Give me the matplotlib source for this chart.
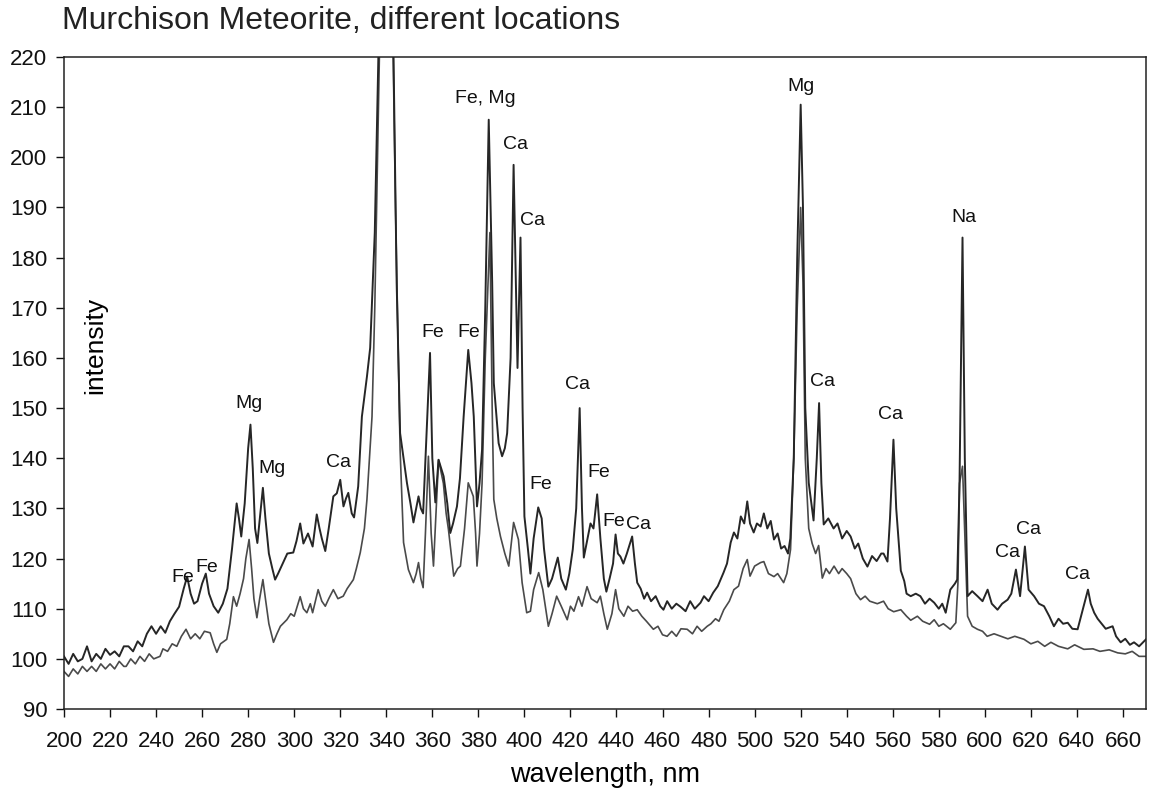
import matplotlib
matplotlib.use("Agg")
import matplotlib.pyplot as plt
import numpy as np

plt.rcParams['font.family'] = ['Liberation Sans', 'DejaVu Sans']

# upper trace (first location)
wl_a = [200, 202, 204, 206, 208, 210, 212, 214, 216, 218, 220, 222, 224, 226, 228, 230, 232, 234, 236, 238,
        240, 242, 244, 246, 248, 250, 252, 253.5, 255, 256.5, 258, 260, 261.6, 263, 265, 267, 269, 271, 273, 275,
        276, 277, 278.5, 280, 281, 282, 283, 284, 285.3, 286.4, 287.5, 289, 290.5, 291.7, 293, 295, 297, 299.6,
        301, 302.6, 304, 306, 308, 309.8, 311, 312, 313.5, 315, 317, 318.5, 320, 321.4, 322.5, 323.5, 325, 326,
        327.8, 329.4, 331.6, 333, 335, 337, 339, 341, 343, 344.5, 346, 349, 350.5, 351.8, 353, 354, 355, 356,
        357.5, 359, 360, 361.3, 362.7, 364.9, 366.5, 367.8, 369, 370.7, 372, 373.6, 375.6, 377, 378, 379.4,
        380.5, 381.6, 383, 384.5, 386, 386.7, 388.8, 390.3, 391.5, 392.5, 394, 395.3, 396.3, 397, 398.3, 399.2,
        400, 401.5, 402.6, 404, 406, 407.5, 408.5, 410.4, 412, 414.5, 416, 418, 419.5, 421, 422.5, 424, 425,
        425.8, 427, 428.7, 430, 431.6, 433, 434.5, 435.6, 437, 438.5, 439.6, 440.6, 441.7, 443, 444.5, 446.8,
        448, 449, 450.5, 452, 453.3, 455, 457, 459, 460.4, 462, 464, 466, 467.8, 470, 472, 474, 476.5, 478,
        480, 482, 484, 486.5, 488, 489.6, 491, 492.5, 494, 495.5, 496.8, 498, 499.6, 501, 502.6, 504, 505.5,
        507, 508.4, 510, 511.5, 513, 514.5, 515.5, 517, 518.5, 520, 521, 522, 523.5, 525.6, 527, 528, 529, 530,
        532, 534.3, 536, 538, 540, 541.7, 543.5, 545, 547, 549, 551, 553, 555, 556, 557.7, 558.8, 560.3, 561.5,
        563.5, 565, 566, 567.8, 570, 572, 574, 576, 578, 580, 581.5, 583, 585, 587, 588, 589, 590.3, 591.3,
        592.5, 594.5, 596.8, 599, 601.2, 603, 605.5, 607.5, 609.9, 611.5, 613.5, 615.3, 617.4, 619, 621.4,
        623.5, 625.7, 628, 630, 632, 634, 636, 638, 640.3, 642.5, 644.8, 646, 647.5, 649, 650.4, 652.5, 655.5,
        657, 659, 661, 663, 664.8, 667, 670]
int_a = [100.5, 99, 101, 99.5, 100, 102.5, 99.5, 101, 100, 102, 100.8, 101.5, 100.5, 102.5, 102.5, 101.5, 103.5,
         102.5, 105, 106.5, 105, 106.5, 105.2, 107.5, 109, 110.4, 114, 116.4, 113, 111, 111.5, 115, 117, 113,
         110.5, 109.2, 111, 114, 122, 131, 128, 124.4, 131, 142, 146.7, 138, 126, 123.1, 129, 134.1, 128, 121,
         118, 115.8, 117, 119, 121, 121.2, 123.5, 127, 123, 125, 122.4, 128.8, 126, 124, 121.5, 126, 132.4, 133,
         135.7, 130.4, 132, 133.1, 129, 128.2, 134.4, 148.3, 156.3, 162, 185, 230, 270, 270, 225, 175, 145, 135,
         131, 127.2, 130, 132.4, 130, 129, 145, 161, 140, 131.2, 139.7, 136.4, 131, 125.1, 127, 130.4, 136,
         148.3, 161.6, 155, 148.3, 130.4, 135, 141.7, 170, 207.5, 175, 155, 143, 140.4, 142, 145, 160, 198.5,
         175, 158, 184, 150, 128.4, 122, 117, 124, 130.2, 128, 122, 114.4, 116, 120.2, 116, 113.8, 117, 121.8,
         130, 150, 130, 120.2, 123, 127, 126, 132.8, 124, 116, 113.4, 116, 119, 124.8, 121, 120.4, 119, 121,
         124.4, 119, 115.2, 114, 112, 113.2, 111.5, 112.5, 110.5, 109.8, 111.5, 110, 111, 110.4, 109.5, 111.5,
         110, 111.2, 112.5, 111.5, 113.2, 114.5, 117.2, 119, 123.2, 125.2, 124, 128.4, 127, 131.4, 127, 125.2,
         127, 126.4, 129, 126, 127.5, 123.8, 125, 122, 122.5, 121, 124, 140, 180, 210.5, 190, 150, 135.1, 127.6,
         140, 151, 135, 126.8, 128, 126, 127, 124, 125.5, 124.4, 122, 123, 120, 118.4, 120.5, 119.5, 121, 121,
         119.4, 128, 143.7, 130, 117.6, 115.5, 113, 112.5, 113, 112.5, 111, 112, 111.2, 110, 111, 109.2, 113.8,
         115, 115.8, 135, 184, 140, 112.5, 113.5, 112.5, 111.5, 113.8, 111, 109.8, 111, 111.8, 113, 117.8,
         112.5, 122.4, 113.8, 112.5, 111, 110.5, 108.5, 106.5, 108, 107, 107.2, 106, 105.9, 109.8, 113.8, 111,
         109.2, 108, 107.2, 106, 106.5, 104.5, 103.3, 104, 102.8, 103.3, 102.5, 103.9]

# lower trace (second location)
wl_b = [200, 202, 204, 206, 208, 210, 212, 214, 216, 218, 220, 222, 224, 226, 227, 229, 231, 233, 235, 237, 239,
        241.7, 243, 245, 247, 249, 251, 253, 255, 257, 259, 261, 263.5, 265, 266.4, 268, 270.7, 272, 273.6, 275,
        276.5, 278, 279, 280.4, 281.5, 282.5, 283.8, 285, 286.4, 287.5, 289, 291, 292.5, 294, 296.8, 298.5,
        300, 302.6, 304, 305.5, 307, 308, 310.4, 312, 313.5, 315, 317, 319, 321.3, 323, 325.7, 327, 328.7,
        330.5, 331.6, 333.8, 335, 337, 339, 341, 343, 344, 346, 347.5, 349.6, 351.8, 353, 354, 355, 356, 357,
        358.3, 359.5, 360.5, 361.5, 362.7, 364.8, 366, 367, 369.3, 371, 372.2, 374, 375.6, 377.8, 378.8, 379.4,
        380.5, 381.6, 383, 385, 386, 386.7, 388, 389.6, 391.5, 393.2, 395.3, 397.4, 399, 401, 402.6, 404, 406.2,
        408, 410.4, 412, 414, 416, 418.6, 420, 421.5, 423.5, 425, 427.2, 429, 431.6, 433, 434.5, 436, 438,
        439.6, 441, 443.2, 445, 447, 449, 451, 453, 456, 458, 460, 462, 464, 466, 468, 470.7, 473, 475, 477,
        479.4, 481, 483, 484.5, 486.6, 489, 491, 493, 495, 496.8, 498, 500, 502.6, 504, 506, 508.4, 510, 512.6,
        514, 515.6, 517, 518.5, 520, 521, 522, 523.5, 525, 526.5, 527.8, 529.4, 531, 532.5, 534.5, 536.5, 538,
        540, 541.7, 544, 546, 548, 550, 553.3, 556, 558, 560.4, 563.5, 566, 567.8, 570.7, 573, 576, 578, 580,
        582, 585, 587.4, 588.3, 589, 590.3, 591.3, 592.5, 594.5, 596.8, 599, 601, 604, 607, 610, 613, 617, 620,
        623, 626, 628.7, 632, 636, 639, 643, 647, 650, 654, 657.7, 661, 664, 667, 670]
int_b = [97.5, 96.5, 98, 97, 98.5, 97.5, 98.5, 97.5, 99, 98, 99, 98, 99.5, 98.5, 98.5, 100, 99, 100.5, 99.5, 101,
         100, 100.5, 102, 101.5, 103, 102.5, 104.5, 105.9, 104, 105, 104, 105.5, 105.2, 103, 101.3, 103, 103.9,
         107, 112.4, 110.5, 113, 116, 120, 123.8, 118, 112, 108.2, 112, 115.8, 112, 107, 103.3, 105, 106.5,
         107.8, 109, 108.5, 112.4, 110, 109.2, 111, 109.2, 113.8, 111.5, 110.5, 112, 113.8, 112, 112.5, 114,
         115.8, 118, 121.2, 126, 131.8, 148.3, 170, 220, 260, 260, 220, 190, 141.7, 123.2, 117.8, 115.2, 117,
         119.2, 116, 114.2, 125, 140.4, 125, 118.5, 128, 139.7, 135, 129, 125.8, 116.5, 118, 118.5, 126, 135.1,
         132.4, 125, 118.5, 125, 135, 160, 185, 150, 131.8, 128, 124.4, 121, 118.5, 127.2, 123.8, 115.2, 109.2,
         109.5, 113.8, 117.2, 113.8, 106.5, 109, 112.5, 110.5, 107.8, 110.5, 109.5, 112.4, 110.5, 114.4, 112,
         111.2, 112.5, 109, 105.9, 109, 113.8, 110, 108.5, 110.5, 109.5, 109.8, 108.5, 107.5, 105.9, 106.5,
         104.8, 104.5, 105.5, 104.5, 106, 105.9, 105, 106.5, 105.5, 106.5, 107, 108, 107.5, 109.8, 111.5, 113.8,
         114.5, 118, 119.8, 116.5, 118.5, 119.2, 119.4, 117, 116.4, 117, 115.2, 117, 121.8, 140, 170, 190, 175,
         140, 126, 123, 121, 122.6, 116.1, 118, 117, 118.5, 117, 118, 117, 116, 113, 111.8, 112.5, 111.5, 111,
         111.5, 110, 109.4, 109.8, 108.5, 107.7, 108.5, 107.5, 106.9, 107.8, 106.5, 107, 105.9, 107.2, 115, 135,
         138.4, 125, 108.5, 106.5, 105.9, 105.5, 104.5, 105, 104.5, 104, 104.5, 103.9, 103, 103.5, 102.5, 103.3,
         102.5, 102, 102.8, 101.9, 102, 101.5, 101.8, 101.2, 101, 101.5, 100.5, 100.5]

# element labels: text, wavelength, intensity
lbl_text = ['Fe', 'Fe', 'Mg', 'Mg', 'Ca', 'Fe', 'Fe', 'Fe, Mg', 'Ca', 'Ca', 'Fe', 'Ca', 'Fe', 'Fe', 'Ca',
            'Mg', 'Ca', 'Ca', 'Na', 'Ca', 'Ca', 'Ca']
lbl_x = [251.7, 262.2, 280.4, 290.4, 319.1, 360.4, 375.7, 383.0, 396.0, 403.3, 407.0, 422.9, 432.3, 438.8,
         449.7, 520.0, 529.6, 559.0, 590.9, 610.0, 619.0, 640.4]
lbl_y = [116.2, 118.2, 150.9, 138.0, 139.1, 165.0, 165.0, 211.8, 202.5, 187.5, 134.7, 154.7, 137.1, 127.4,
         126.8, 214.2, 155.3, 148.7, 188.0, 121.2, 125.8, 116.8]

fig = plt.figure(figsize=(11.55, 7.93), dpi=100)
ax = fig.add_axes([0.0554, 0.1059, 0.9368, 0.8222])

ax.plot(wl_b, int_b, color='#4a4a4a', linewidth=1.2)
ax.plot(wl_a, int_a, color='#262626', linewidth=1.4)

for t, x, y in zip(lbl_text, lbl_x, lbl_y):
    ax.text(x, y, t, fontsize=14, ha='center', va='center', color='#111111')

ax.set_xlim(200, 670)
ax.set_ylim(90, 220)
ax.set_xticks(np.arange(200, 661, 20))
ax.set_yticks(np.arange(90, 221, 10))
ax.tick_params(axis='both', direction='out', length=6, width=1, labelsize=16, colors='#111111')
ax.tick_params(axis='x', pad=10)
ax.tick_params(axis='y', pad=6)
for s in ax.spines.values():
    s.set_linewidth(1.1)
    s.set_color('#222222')

ax.set_xlabel('wavelength, nm', fontsize=19.5, labelpad=7)
ax.text(0.0287, 0.558, 'intensity', transform=ax.transAxes, rotation=90,
        fontsize=19, ha='center', va='center')

fig.text(0.054, 0.974, 'Murchison Meteorite, different locations', fontsize=23,
         ha='left', va='center', color='#222222')

fig.savefig('out.png', dpi=100)
